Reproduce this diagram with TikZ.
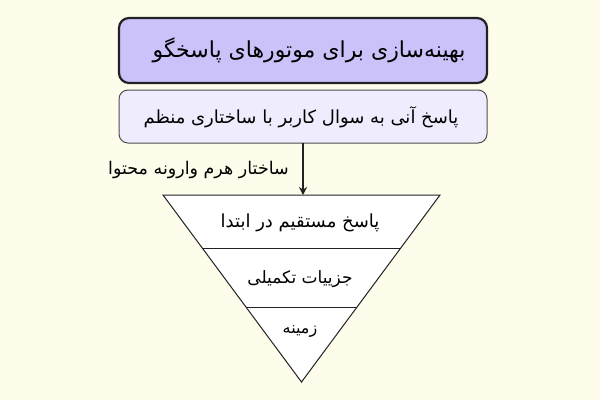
\documentclass[tikz,border=0pt]{standalone}
\usepackage{fontspec}
\usetikzlibrary{arrows.meta}
\TeXXeTstate=1
\newfontfamily\arabicfont[Script=Arabic]{DejaVu Sans}
\definecolor{bgc}{HTML}{FEFCEA}
\definecolor{topc}{HTML}{CBC2F9}
\definecolor{subc}{HTML}{EFEDFD}
\definecolor{linec}{HTML}{222222}
\tikzset{
  topbox/.style={draw=linec, line width=2.2pt, fill=topc, rounded corners=10pt},
  subbox/.style={draw=linec!80, line width=1pt, fill=subc, rounded corners=9pt},
  biglbl/.style={font=\arabicfont\fontsize{22}{26}\selectfont, text=black, inner sep=0pt},
  sublbl/.style={font=\arabicfont\fontsize{18}{22}\selectfont, text=black, inner sep=0pt},
  arrlbl/.style={font=\arabicfont\fontsize{17.5}{21}\selectfont, text=black, inner sep=0pt},
  lbla/.style={font=\arabicfont\fontsize{18}{22}\selectfont, text=black, inner sep=0pt},
  lblb/.style={font=\arabicfont\fontsize{17}{21}\selectfont, text=black, inner sep=0pt},
  lblc/.style={font=\arabicfont\fontsize{16}{20}\selectfont, text=black, inner sep=0pt},
}
\begin{document}
\begin{tikzpicture}[x=1pt,y=-1pt]
\fill[bgc] (0,0) rectangle (600,400);
\useasboundingbox (0,0) rectangle (600,400);
\draw[topbox] (119,18) rectangle (487,83);
\node[biglbl] (t1) at (309,50) {\beginR بهینه‌سازی برای موتورهای پاسخگو\endR};
\draw[subbox] (119,90) rectangle (487,143);
\node[sublbl] (t2) at (301,117) {\beginR پاسخ آنی به سوال کاربر با ساختاری منظم\endR};
\coordinate (tl) at (163,195);
\coordinate (tr) at (440,195);
\coordinate (ap) at (301.5,382);
\coordinate (top) at (303,195);
\coordinate (src) at (303,143);
\draw[line width=1.3pt, draw=linec, -{Stealth[length=8pt,width=8pt]}] (src) -- (top);
\node[arrlbl, anchor=east] (al) at (289,170) {\beginR ساختار هرم وارونه محتوا\endR};
\draw[line width=1pt, draw=linec, fill=white, line join=miter] (tl) -- (tr) -- (ap) -- cycle;
\path (tl) -- (ap) coordinate[pos=0.2834] (l1) coordinate[pos=0.5989] (l2);
\path (tr) -- (ap) coordinate[pos=0.2834] (r1) coordinate[pos=0.5989] (r2);
\draw[line width=1pt, draw=linec] (l1) -- (r1);
\draw[line width=1pt, draw=linec] (l2) -- (r2);
\node[lbla] (p1) at (300,223) {\beginR پاسخ مستقیم در ابتدا\endR};
\node[lblb] (p2) at (300,279) {\beginR جزییات تکمیلی\endR};
\node[lblc] (p3) at (300,332) {\beginR زمینه\endR};
\end{tikzpicture}
\end{document}
